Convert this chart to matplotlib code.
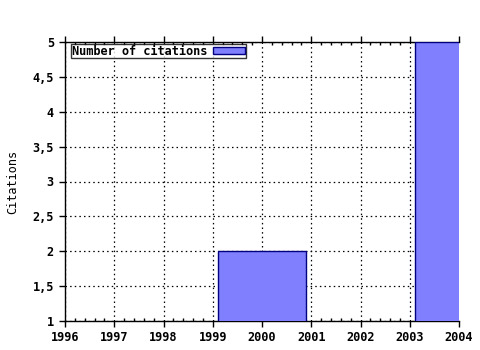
import matplotlib
matplotlib.use("Agg")
import matplotlib.pyplot as plt
from matplotlib.ticker import MultipleLocator, FuncFormatter

years = [2000, 2004]
citations = [2, 5]
x_ticks = [1996, 1997, 1998, 1999, 2000, 2001, 2002, 2003, 2004]
y_ticks = [1, 1.5, 2, 2.5, 3, 3.5, 4, 4.5, 5]
series_label = "Number of citations"
y_label = "Citations"

plt.rcParams['font.family'] = ['DejaVu Sans Mono']

fig = plt.figure(figsize=(4.8, 3.5), dpi=100)
ax = fig.add_axes([65/480, 1-321/350, (459-65)/480, (321-42)/350])

ax.bar(years, citations, width=1.8, bottom=0, color='#8080ff', edgecolor='#000080',
       linewidth=1.0, label=series_label, zorder=3)

ax.set_xlim(1996, 2004)
ax.set_ylim(1, 5)
ax.set_xticks(x_ticks)
ax.set_yticks(y_ticks)
ax.xaxis.set_minor_locator(MultipleLocator(0.2))
ax.yaxis.set_major_formatter(FuncFormatter(lambda v, p: ('%g' % v).replace('.', ',')))

ax.grid(True, which='major', color='black', linestyle=(0, (1.2, 2.5)), linewidth=0.9, zorder=1)
ax.set_axisbelow(True)

ax.tick_params(axis='x', which='major', direction='out', length=4, width=1, top=True,
               labelsize=8.6, pad=3)
ax.tick_params(axis='x', which='minor', direction='in', length=2, width=1, top=True)
ax.tick_params(axis='y', which='major', direction='out', length=4, width=1, labelsize=8.6, pad=4)
for lab in ax.get_xticklabels() + ax.get_yticklabels():
    lab.set_fontweight('bold')

for s in ax.spines.values():
    s.set_linewidth(1)
    s.set_color('black')
ax.spines['right'].set_visible(False)

ax.set_ylabel(y_label, fontsize=8.6)
ax.yaxis.set_label_coords(-0.115, 0.5)

leg = ax.legend(loc='upper left', bbox_to_anchor=(0.015, 0.993), markerfirst=False,
                prop={'weight': 'bold', 'size': 8.6}, frameon=True, fancybox=False,
                borderpad=0.05, handlelength=2.7, handleheight=0.55, handletextpad=0.5,
                borderaxespad=0)
leg.get_frame().set_edgecolor('black')
leg.get_frame().set_linewidth(1)

fig.savefig("out.png", dpi=100)
